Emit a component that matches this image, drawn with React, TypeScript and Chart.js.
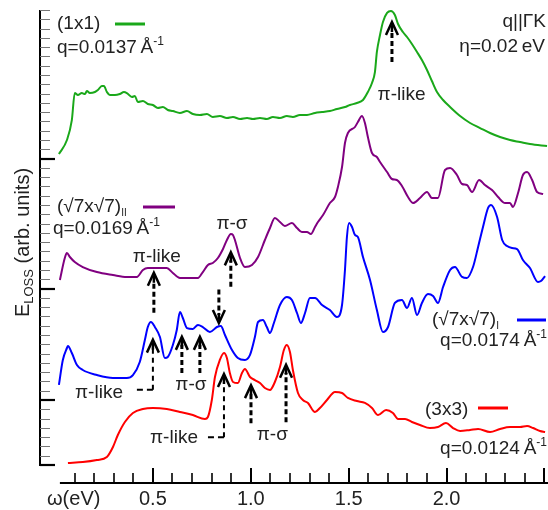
import React, { useEffect, useRef } from "react";
import { Chart, registerables } from "chart.js";

Chart.register(...registerables);

// Energy-loss spectra: [ω (eV), E_loss (arb. units)], curves stacked on offset baselines.
const loss1x1: [number, number][] = [
  [0.020, 33.49], [0.061, 35.0], [0.086, 37.15], [0.101, 40.06], [0.117, 39.84], [0.137, 40.06],
  [0.153, 39.95], [0.163, 40.28], [0.178, 40.06], [0.204, 40.17], [0.219, 40.38], [0.239, 40.81],
  [0.250, 40.81], [0.265, 40.17], [0.280, 39.84], [0.306, 39.84], [0.331, 39.95], [0.352, 40.17],
  [0.367, 40.06], [0.393, 39.63], [0.408, 39.74], [0.423, 39.09], [0.449, 39.2], [0.474, 38.88],
  [0.500, 38.77], [0.525, 38.45], [0.551, 38.56], [0.576, 38.23], [0.602, 38.12], [0.638, 37.91],
  [0.674, 38.12], [0.704, 37.80], [0.740, 37.69], [0.776, 37.80], [0.806, 37.48], [0.842, 37.58],
  [0.878, 37.37], [0.909, 37.48], [0.945, 37.26], [0.981, 37.37], [1.011, 37.26], [1.047, 37.37],
  [1.082, 37.26], [1.113, 37.48], [1.149, 37.37], [1.184, 37.58], [1.215, 37.48], [1.251, 37.69],
  [1.287, 37.69], [1.328, 37.91], [1.364, 38.01], [1.404, 38.12], [1.440, 38.34], [1.481, 38.55],
  [1.506, 38.77], [1.542, 38.98], [1.573, 39.31], [1.598, 40.17], [1.619, 41.14], [1.634, 42.32],
  [1.644, 44.48], [1.660, 46.31], [1.675, 47.71], [1.696, 48.68], [1.716, 48.89], [1.736, 48.46],
  [1.752, 47.49], [1.777, 46.63], [1.798, 46.09], [1.823, 45.34], [1.849, 44.48], [1.874, 43.61],
  [1.900, 42.54], [1.925, 41.35], [1.951, 40.17], [1.982, 39.31], [2.018, 38.55], [2.069, 37.58],
  [2.120, 36.83], [2.171, 36.29], [2.222, 35.75], [2.273, 35.32], [2.324, 35.0], [2.375, 34.78],
  [2.426, 34.56], [2.513, 34.35],
];

const lossR7par: [number, number][] = [
  [0.025, 19.92], [0.050, 22.29], [0.061, 22.83], [0.076, 22.40], [0.101, 21.86], [0.142, 21.32],
  [0.214, 20.78], [0.296, 20.46], [0.367, 20.25], [0.418, 20.25], [0.449, 21.0], [0.474, 21.21],
  [0.520, 21.21], [0.571, 21.21], [0.602, 20.68], [0.638, 20.14], [0.674, 20.14], [0.730, 20.14],
  [0.755, 20.78], [0.781, 21.54], [0.806, 21.75], [0.832, 22.29], [0.858, 23.26], [0.878, 24.23],
  [0.898, 24.88], [0.909, 24.77], [0.919, 24.23], [0.945, 22.29], [0.970, 21.32], [1.006, 21.54],
  [1.037, 22.40], [1.072, 24.23], [1.098, 25.52], [1.123, 26.60], [1.149, 26.17], [1.174, 25.74],
  [1.210, 26.06], [1.236, 25.52], [1.261, 25.09], [1.287, 25.09], [1.307, 24.88], [1.328, 25.63],
  [1.343, 26.17], [1.369, 26.92], [1.404, 28.21], [1.430, 28.86], [1.445, 29.94], [1.466, 32.09],
  [1.481, 34.68], [1.496, 35.75], [1.532, 36.40], [1.547, 36.94], [1.568, 37.58], [1.583, 36.83],
  [1.598, 35.32], [1.619, 33.60], [1.644, 33.17], [1.660, 32.63], [1.696, 31.55], [1.721, 30.80],
  [1.746, 30.69], [1.772, 30.05], [1.803, 28.86], [1.829, 28.21], [1.864, 28.75], [1.900, 29.40],
  [1.925, 28.75], [1.956, 28.75], [1.992, 31.77], [2.018, 31.98], [2.053, 31.23], [2.079, 30.26],
  [2.104, 30.15], [2.130, 29.40], [2.166, 30.69], [2.196, 30.15], [2.232, 29.61], [2.263, 28.86],
  [2.299, 28.21], [2.324, 28.21], [2.339, 27.78], [2.365, 29.29], [2.390, 31.23], [2.411, 31.55],
  [2.437, 30.69], [2.462, 29.40], [2.493, 29.18],
];

const lossR7perp: [number, number][] = [
  [0.020, 8.62], [0.040, 11.31], [0.061, 12.60], [0.066, 12.81], [0.086, 12.06], [0.112, 10.77],
  [0.142, 10.23], [0.214, 9.69], [0.296, 9.37], [0.367, 9.37], [0.398, 9.69], [0.433, 11.09],
  [0.459, 13.46], [0.474, 14.86], [0.490, 15.40], [0.510, 14.86], [0.536, 13.78], [0.561, 11.52],
  [0.576, 11.63], [0.602, 12.92], [0.622, 14.54], [0.638, 16.48], [0.653, 15.83], [0.674, 14.75],
  [0.704, 14.65], [0.730, 15.08], [0.755, 14.86], [0.791, 14.32], [0.827, 14.86], [0.847, 14.97],
  [0.868, 14.0], [0.904, 12.38], [0.934, 11.52], [0.970, 11.31], [0.996, 11.85], [1.021, 13.78],
  [1.037, 15.40], [1.062, 15.61], [1.082, 14.86], [1.098, 14.21], [1.118, 15.29], [1.149, 17.23],
  [1.184, 18.09], [1.210, 17.77], [1.236, 16.37], [1.256, 15.29], [1.277, 16.37], [1.302, 17.98],
  [1.328, 17.98], [1.364, 17.23], [1.404, 16.69], [1.440, 15.94], [1.466, 17.23], [1.481, 21.0],
  [1.491, 24.55], [1.502, 26.06], [1.517, 25.63], [1.532, 24.77], [1.547, 24.55], [1.573, 22.40],
  [1.609, 19.92], [1.644, 16.69], [1.675, 14.32], [1.701, 14.86], [1.736, 17.45], [1.772, 17.77],
  [1.798, 16.91], [1.823, 17.98], [1.849, 16.15], [1.874, 17.45], [1.905, 18.41], [1.931, 18.20],
  [1.956, 17.45], [1.982, 19.17], [2.018, 21.0], [2.043, 21.32], [2.079, 20.25], [2.104, 20.14],
  [2.135, 21.32], [2.161, 23.48], [2.186, 25.63], [2.212, 27.68], [2.227, 28.0], [2.258, 26.71],
  [2.284, 24.23], [2.309, 23.58], [2.334, 23.37], [2.360, 23.26], [2.390, 22.08], [2.426, 21.21],
  [2.467, 19.71], [2.482, 19.81], [2.503, 20.35],
];

const loss3x3: [number, number][] = [
  [0.066, 0.22], [0.142, 0.32], [0.214, 0.54], [0.265, 0.86], [0.296, 1.94], [0.321, 3.23],
  [0.357, 4.63], [0.398, 5.60], [0.449, 6.03], [0.500, 6.14], [0.571, 6.03], [0.638, 5.71],
  [0.704, 5.38], [0.766, 4.95], [0.781, 5.17], [0.801, 7.0], [0.817, 9.48], [0.842, 11.31],
  [0.863, 12.06], [0.878, 11.52], [0.893, 9.91], [0.909, 8.94], [0.934, 8.83], [0.955, 9.91],
  [0.970, 10.34], [0.996, 9.48], [1.021, 9.15], [1.047, 8.83], [1.072, 8.29], [1.098, 8.08],
  [1.123, 8.94], [1.149, 10.55], [1.169, 12.38], [1.184, 12.92], [1.200, 12.17], [1.215, 10.23],
  [1.241, 7.75], [1.266, 7.0], [1.292, 6.68], [1.328, 5.71], [1.353, 6.14], [1.389, 7.0],
  [1.430, 7.86], [1.466, 7.75], [1.496, 7.22], [1.542, 6.89], [1.583, 6.68], [1.619, 6.14],
  [1.650, 5.38], [1.691, 5.92], [1.726, 5.60], [1.752, 4.95], [1.788, 4.95], [1.823, 4.63],
  [1.864, 4.31], [1.915, 3.98], [1.956, 4.09], [1.997, 4.52], [2.033, 3.98], [2.069, 3.66],
  [2.120, 3.77], [2.161, 3.88], [2.222, 3.55], [2.273, 3.88], [2.324, 4.09], [2.375, 4.09],
  [2.411, 4.20], [2.442, 3.98], [2.477, 3.66], [2.503, 3.55],
];

// Axis ticks
const xMajorTicks = [0.5, 1.0, 1.5, 2.0, 2.5];
const xTickLabels = ["0.5", "1.0", "1.5", "2.0"];
const yBaselines = [0, 7, 19, 33];
const yTickCount = 49;

// Peak markers: energy, tail and tip of the arrow (arb. units)
type Marker = { x: number; from: number; to: number; thin?: boolean; leadTo?: number };
const markers: Marker[] = [
  { x: 1.721, from: 43.4, to: 47.7 },
  { x: 0.505, from: 16.4, to: 20.7 },
  { x: 0.898, from: 19.2, to: 22.9 },
  { x: 0.837, from: 18.9, to: 15.3 },
  { x: 0.500, from: 8.1, to: 13.5, thin: true, leadTo: 0.408 },
  { x: 0.648, from: 9.9, to: 13.8 },
  { x: 0.740, from: 9.9, to: 13.8 },
  { x: 0.863, from: 3.0, to: 9.8, thin: true, leadTo: 0.781 },
  { x: 1.001, from: 4.5, to: 8.6 },
  { x: 1.180, from: 4.6, to: 10.8 },
];

const FONT = '"Liberation Sans", Arial, Helvetica, sans-serif';
const TEXT = "#222";

type Run = { t: string; size: number; dy?: number };

function drawRuns(ctx: CanvasRenderingContext2D, runs: Run[], x: number, y: number, align: "left" | "right" | "center") {
  let total = 0;
  const widths = runs.map((r) => {
    ctx.font = `${r.size}px ${FONT}`;
    const w = ctx.measureText(r.t).width;
    total += w;
    return w;
  });
  let cx = align === "left" ? x : align === "right" ? x - total : x - total / 2;
  ctx.textAlign = "left";
  ctx.textBaseline = "alphabetic";
  runs.forEach((r, i) => {
    ctx.font = `${r.size}px ${FONT}`;
    ctx.fillText(r.t, cx, y + (r.dy || 0));
    cx += widths[i];
  });
}

const qRuns = (q: string): Run[] => [
  { t: `q=${q}\u2009Å`, size: 19 },
  { t: "-1", size: 12, dy: -8 },
];

const decorations = {
  id: "decorations",
  afterDatasetsDraw(chart: any) {
    const { ctx, chartArea } = chart;
    const xs = chart.scales.x;
    const ys = chart.scales.y;
    ctx.save();

    // y axis: offset to the left of the plot, ticks pointing inward
    const axX = chartArea.left - 15;
    ctx.strokeStyle = "#000";
    ctx.lineWidth = 2;
    ctx.beginPath();
    ctx.moveTo(axX, ys.getPixelForValue(yTickCount));
    ctx.lineTo(axX, ys.getPixelForValue(0) + 1);
    ctx.stroke();
    for (let i = 0; i <= yTickCount; i++) {
      const py = Math.round(ys.getPixelForValue(i));
      const major = yBaselines.includes(i);
      ctx.strokeStyle = major ? "#000" : "#777";
      ctx.lineWidth = major ? 2.2 : 1;
      ctx.beginPath();
      ctx.moveTo(axX, major ? py : py + 0.5);
      ctx.lineTo(axX + (major ? 15 : 10), major ? py : py + 0.5);
      ctx.stroke();
    }

    // x axis: below the plot, ticks pointing up
    const axY = chartArea.bottom + 18;
    ctx.strokeStyle = "#000";
    ctx.lineWidth = 2;
    ctx.beginPath();
    ctx.moveTo(xs.getPixelForValue(0.025), axY);
    ctx.lineTo(chart.width, axY);
    ctx.stroke();
    for (let k = 1; k <= 25; k++) {
      const v = k / 10;
      const px = Math.round(xs.getPixelForValue(v));
      const major = xMajorTicks.some((m) => Math.abs(m - v) < 1e-6);
      ctx.lineWidth = major ? 2 : 1.6;
      ctx.beginPath();
      ctx.moveTo(px, axY);
      ctx.lineTo(px, axY - (major ? 15 : 10));
      ctx.stroke();
    }

    ctx.fillStyle = TEXT;
    xTickLabels.forEach((lab) => {
      drawRuns(ctx, [{ t: lab, size: 20 }], xs.getPixelForValue(parseFloat(lab)), axY + 22, "center");
    });
    drawRuns(ctx, [{ t: "ω(eV)", size: 20 }], 47, axY + 22, "left");

    // y axis title
    ctx.save();
    ctx.translate(29, (chartArea.top + chartArea.bottom) / 2 + 5);
    ctx.rotate(-Math.PI / 2);
    drawRuns(ctx, [
      { t: "E", size: 20 },
      { t: "LOSS", size: 13, dy: 4 },
      { t: " (arb. units)", size: 20 },
    ], 0, 0, "center");
    ctx.restore();

    // peak markers
    ctx.strokeStyle = "#000";
    markers.forEach((m) => {
      const px = xs.getPixelForValue(m.x);
      const pFrom = ys.getPixelForValue(m.from);
      const pTo = ys.getPixelForValue(m.to);
      const dir = pTo < pFrom ? -1 : 1;
      ctx.lineWidth = m.thin ? 2 : 3;
      ctx.setLineDash(m.thin ? [5, 4] : [5, 3]);
      ctx.beginPath();
      ctx.moveTo(px, pFrom);
      ctx.lineTo(px, pTo - dir * 8);
      ctx.stroke();
      if (m.leadTo !== undefined) {
        ctx.lineWidth = 2;
        ctx.setLineDash([6, 4]);
        ctx.beginPath();
        ctx.moveTo(px, pFrom);
        ctx.lineTo(xs.getPixelForValue(m.leadTo), pFrom);
        ctx.stroke();
      }
      ctx.setLineDash([]);
      ctx.lineWidth = 2.5;
      ctx.beginPath();
      ctx.moveTo(px, pTo - dir * 10);
      ctx.lineTo(px, pTo - dir * 3);
      ctx.stroke();
      ctx.beginPath();
      ctx.moveTo(px - 6, pTo - dir * 13);
      ctx.lineTo(px, pTo);
      ctx.lineTo(px + 6, pTo - dir * 13);
      ctx.stroke();
    });

    // legend entries and labels
    const legendLine = (x0: number, x1: number, y: number, color: string) => {
      ctx.strokeStyle = color;
      ctx.lineWidth = 3;
      ctx.beginPath();
      ctx.moveTo(x0, y);
      ctx.lineTo(x1, y);
      ctx.stroke();
    };
    ctx.fillStyle = TEXT;

    drawRuns(ctx, [{ t: "(1x1)", size: 19 }], 57, 29, "left");
    legendLine(115, 145, 24, "#1aa81a");
    drawRuns(ctx, qRuns("0.0137"), 57, 53, "left");

    drawRuns(ctx, [{ t: "q||ΓK", size: 19 }], 546, 27, "right");
    drawRuns(ctx, [{ t: "η=0.02\u2009eV", size: 19 }], 545, 52, "right");

    drawRuns(ctx, [{ t: "π-like", size: 19 }], xs.getPixelForValue(1.77), ys.getPixelForValue(39.3), "center");

    drawRuns(ctx, [{ t: "(√7x√7)", size: 19 }, { t: "II", size: 10, dy: 4 }], 57, 212, "left");
    legendLine(143, 175, 207, "#800080");
    drawRuns(ctx, qRuns("0.0169"), 53, 234, "left");
    drawRuns(ctx, [{ t: "π-like", size: 19 }], xs.getPixelForValue(0.52), ys.getPixelForValue(21.85), "center");
    drawRuns(ctx, [{ t: "π-σ", size: 19 }], xs.getPixelForValue(0.904), ys.getPixelForValue(25.4), "center");

    drawRuns(ctx, [{ t: "(√7x√7)", size: 19 }, { t: "I", size: 10, dy: 4 }], 432, 325, "left");
    legendLine(517, 546, 320, "#0000ff");
    drawRuns(ctx, qRuns("0.0174"), 547, 346, "right");
    drawRuns(ctx, [{ t: "π-like", size: 19 }], 75, 398, "left");
    drawRuns(ctx, [{ t: "π-σ", size: 19 }], xs.getPixelForValue(0.694), ys.getPixelForValue(8.1), "center");

    drawRuns(ctx, [{ t: "(3x3)", size: 19 }], 425, 415, "left");
    legendLine(478, 508, 408, "#ff0000");
    drawRuns(ctx, qRuns("0.0124"), 547, 454, "right");
    drawRuns(ctx, [{ t: "π-like", size: 19 }], 150, 443, "left");
    drawRuns(ctx, [{ t: "π-σ", size: 19 }], xs.getPixelForValue(1.11), ys.getPixelForValue(2.7), "center");

    ctx.restore();
  },
};

export default function App() {
  const canvasRef = useRef<HTMLCanvasElement | null>(null);

  useEffect(() => {
    const canvas = canvasRef.current;
    if (!canvas) return;
    const series = [
      { data: loss1x1, color: "#1aa81a" },
      { data: lossR7par, color: "#800080" },
      { data: lossR7perp, color: "#0000ff" },
      { data: loss3x3, color: "#ff0000" },
    ];
    const chart = new Chart(canvas, {
      type: "line",
      data: {
        datasets: series.map((s) => ({
          data: s.data.map(([x, y]) => ({ x, y })),
          borderColor: s.color,
          borderWidth: 2,
          pointRadius: 0,
          cubicInterpolationMode: "monotone" as const,
          fill: false,
        })),
      },
      options: {
        responsive: false,
        animation: false,
        devicePixelRatio: 1,
        layout: { padding: { left: 55, right: 0, top: 10, bottom: 45 } },
        plugins: { legend: { display: false }, tooltip: { enabled: false } },
        events: [],
        scales: {
          x: { type: "linear", min: 0, max: 2.518, display: false },
          y: { type: "linear", min: 0, max: yTickCount, display: false },
        },
      },
      plugins: [decorations],
    });
    return () => chart.destroy();
  }, []);

  return (
    <div style={{ position: "fixed", left: 0, top: 0, width: 548, height: 510, background: "#fff" }}>
      <canvas ref={canvasRef} width={548} height={510} style={{ width: 548, height: 510, display: "block" }} />
    </div>
  );
}
